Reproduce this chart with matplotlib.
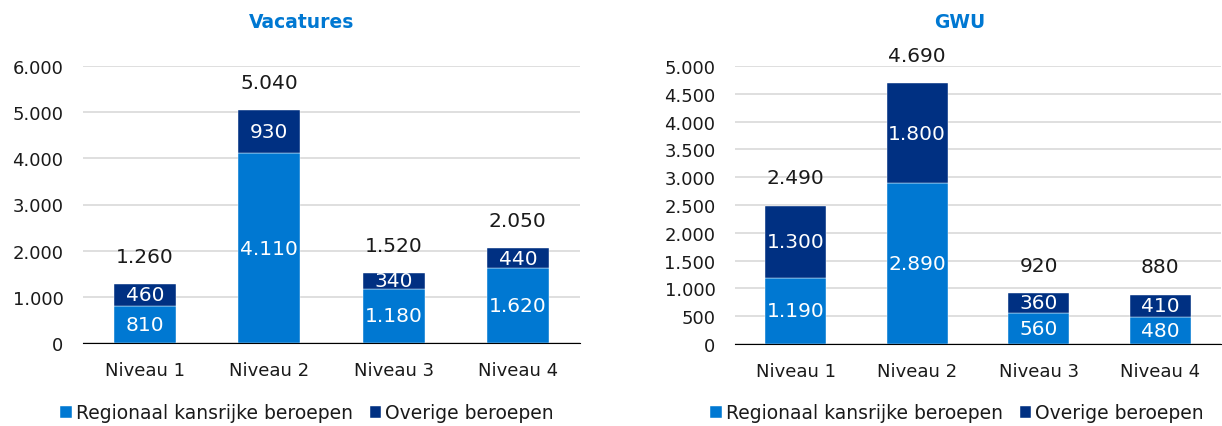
import matplotlib.pyplot as plt
from matplotlib.ticker import FuncFormatter

niveaus = ['Niveau 1', 'Niveau 2', 'Niveau 3', 'Niveau 4']
series = ['Regionaal kansrijke beroepen', 'Overige beroepen']

vac_kansrijk = [810, 4110, 1180, 1620]
vac_overig = [460, 930, 340, 440]
vac_totaal = [1260, 5040, 1520, 2050]

gwu_kansrijk = [1190, 2890, 560, 480]
gwu_overig = [1300, 1800, 360, 410]
gwu_totaal = [2490, 4690, 920, 880]

licht = '#0078D2'
donker = '#003082'
tekst = '#1a1a1a'
W, H = 1222, 427


def fmt(v):
    return f'{v:,.0f}'.replace(',', '.')


def paneel(rect, title, kansrijk, overig, totaal, ymax, ystep, title_x, legend_x):
    ax = fig.add_axes(rect)
    x = range(len(niveaus))
    b1 = ax.bar(x, kansrijk, width=0.5, color=licht, edgecolor='white', linewidth=0.3,
                label=series[0], zorder=3)
    b2 = ax.bar(x, overig, width=0.5, bottom=kansrijk, color=donker, edgecolor='white',
                linewidth=0.3, label=series[1], zorder=3)

    for i in x:
        k, o = kansrijk[i], overig[i]
        ax.text(i, k / 2, fmt(k), ha='center', va='center', color='white', fontsize=14.5, zorder=4)
        ax.text(i, k + o / 2, fmt(o), ha='center', va='center', color='white', fontsize=14.5, zorder=4)
        ax.annotate(fmt(totaal[i]), (i, k + o), xytext=(0, 20), textcoords='offset points',
                    ha='center', va='center', fontsize=14.5, color=tekst)

    ax.set_xlim(-0.5, len(niveaus) - 0.5)
    ax.set_ylim(0, ymax)
    ax.set_yticks(range(0, ymax + 1, ystep))
    ax.yaxis.set_major_formatter(FuncFormatter(lambda v, p: fmt(v)))
    ax.set_xticks(list(x))
    ax.set_xticklabels(niveaus)
    ax.tick_params(axis='both', length=0, labelsize=13, labelcolor=tekst)
    ax.tick_params(axis='y', pad=14)
    ax.tick_params(axis='x', pad=13)
    ax.grid(axis='y', color='#D9D9D9', linewidth=1.2, zorder=0)
    for s in ['top', 'right', 'left']:
        ax.spines[s].set_visible(False)
    ax.spines['bottom'].set_color('black')
    ax.spines['bottom'].set_zorder(5)

    fig.text(title_x / W, 1 - 22 / H, title, ha='center', va='center',
             color=licht, fontsize=13.5, fontweight='bold')

    fig.legend(handles=[b1, b2], loc='center', bbox_to_anchor=(legend_x / W, 1 - 414 / H),
               ncol=2, frameon=False, fontsize=13.5, handlelength=0.62, handleheight=0.62,
               handletextpad=0.2, columnspacing=0.9, labelcolor=tekst)
    return ax


fig = plt.figure(figsize=(W / 100, H / 100), dpi=100)

paneel([83 / W, 1 - 344 / H, (580 - 83) / W, (344 - 67) / H],
       'Vacatures', vac_kansrijk, vac_overig, vac_totaal, 6000, 1000, 302, 307)
paneel([735 / W, 1 - 345 / H, (1221 - 735) / W, (345 - 67) / H],
       'GWU', gwu_kansrijk, gwu_overig, gwu_totaal, 5000, 500, 960, 957)

fig.savefig('out.png', dpi=100)
